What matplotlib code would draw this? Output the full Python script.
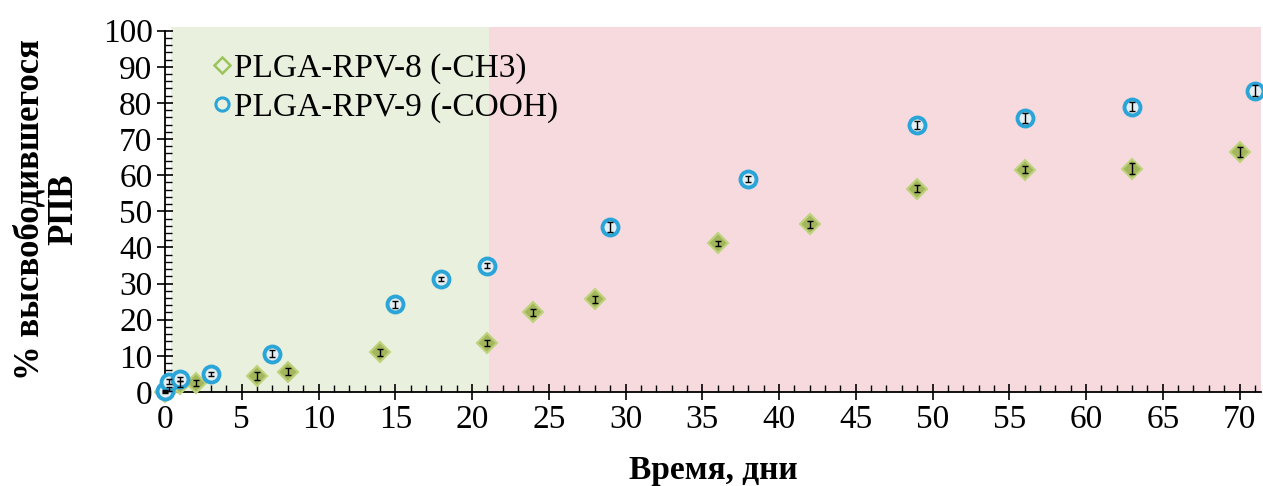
import matplotlib
matplotlib.use("Agg")
import matplotlib.pyplot as plt
from matplotlib.lines import Line2D
from matplotlib.ticker import MultipleLocator

# Data
days_ch3 = [0, 0.25, 1, 2, 6, 8, 14, 21, 24, 28, 36, 42, 49, 56, 63, 70]
rel_ch3 = [0.0, 0.8, 2.3, 2.5, 4.4, 5.6, 11.0, 13.6, 22.0, 25.7, 41.1, 46.4, 56.3, 61.5, 61.8, 66.4]
err_ch3 = [0.3, 0.5, 0.8, 0.8, 1.0, 1.0, 1.0, 0.8, 1.0, 1.0, 0.8, 1.0, 1.0, 1.0, 1.5, 1.3]

days_cooh = [0, 0.25, 1, 3, 7, 15, 18, 21, 29, 38, 49, 56, 63, 71]
rel_cooh = [0.2, 2.9, 3.6, 5.0, 10.6, 24.3, 31.2, 35.0, 45.7, 59.0, 73.9, 75.8, 79.0, 83.4]
err_cooh = [0.3, 0.6, 0.6, 0.6, 1.0, 1.0, 0.5, 0.8, 1.3, 0.8, 1.0, 1.3, 1.3, 1.5]

label_ch3 = "PLGA-RPV-8 (-CH3)"
label_cooh = "PLGA-RPV-9 (-COOH)"
xlabel = "Время, дни"
ylabel = "% высвободившегося\nРПВ"
phase_split = 21.1

plt.rcParams['font.family'] = ['Liberation Serif', 'DejaVu Serif']

fig = plt.figure(figsize=(12.63, 4.86), dpi=100)
ax = fig.add_axes([165/1263, 1-392/486, (1261-165)/1263, (392-27)/486])

ax.set_xlim(0, 71.4)
ax.set_ylim(0, 101)

ax.axvspan(0.4, phase_split, color='#e9f0dd', zorder=0, lw=0)
ax.axvspan(phase_split, 71.4, color='#f6dade', zorder=0, lw=0)

# markers
ax.plot(days_ch3, rel_ch3, ls='none', marker='D', markersize=10.5,
        markerfacecolor='#a4b65c', markeredgecolor='#bfd27e', markeredgewidth=1.5,
        zorder=3, clip_on=False)
ax.plot(days_cooh, rel_cooh, ls='none', marker='o', markersize=11.5,
        markerfacecolor='#e4eef3', markeredgecolor='#2ba5d8', markeredgewidth=2.8,
        zorder=4, clip_on=False)
# error bars
eb1 = ax.errorbar(days_ch3, rel_ch3, yerr=err_ch3, fmt='none', ecolor='black',
                  elinewidth=1, capsize=2.5, capthick=1, zorder=5)
eb2 = ax.errorbar(days_cooh, rel_cooh, yerr=err_cooh, fmt='none', ecolor='black',
                  elinewidth=1, capsize=2.5, capthick=1, zorder=6)
for eb in (eb1, eb2):
    for art in eb.lines[1] + eb.lines[2]:
        art.set_clip_on(False)

for s in ['top', 'right']:
    ax.spines[s].set_visible(False)
ax.spines['left'].set_bounds(0, 100)
ax.spines['left'].set_linewidth(1.3)
ax.spines['bottom'].set_linewidth(1.3)
ax.spines['left'].set_zorder(2)
ax.spines['bottom'].set_zorder(2)

ax.xaxis.set_major_locator(MultipleLocator(5))
ax.xaxis.set_minor_locator(MultipleLocator(1))
ax.yaxis.set_minor_locator(MultipleLocator(2))
ax.set_yticks(range(0, 101, 10))

ax.tick_params(axis='both', which='major', direction='inout', length=12, width=1.2,
               labelsize=24, colors='black', pad=3)
ax.tick_params(axis='both', which='minor', direction='in', length=5, width=1.0)

ax.set_xlabel(xlabel, fontsize=24, fontweight='bold')
ax.xaxis.set_label_coords(0.5, -0.172)
ax.set_ylabel(ylabel, fontsize=25, fontweight='bold', linespacing=1.05)
ax.yaxis.set_label_coords(-0.077, 0.5)

handles = [
    Line2D([], [], ls='none', marker='D', markersize=8, markerfacecolor='none',
           markeredgecolor='#9bc45a', markeredgewidth=1.8),
    Line2D([], [], ls='none', marker='o', markersize=9.5, markerfacecolor='none',
           markeredgecolor='#2ba5d8', markeredgewidth=2.2),
]
ax.legend(handles, [label_ch3, label_cooh], loc='upper left', bbox_to_anchor=(0.031, 0.965),
          frameon=False, fontsize=24, handlelength=0.6, handletextpad=0.05,
          labelspacing=0.25, borderaxespad=0)

fig.savefig('out.png', dpi=100)
